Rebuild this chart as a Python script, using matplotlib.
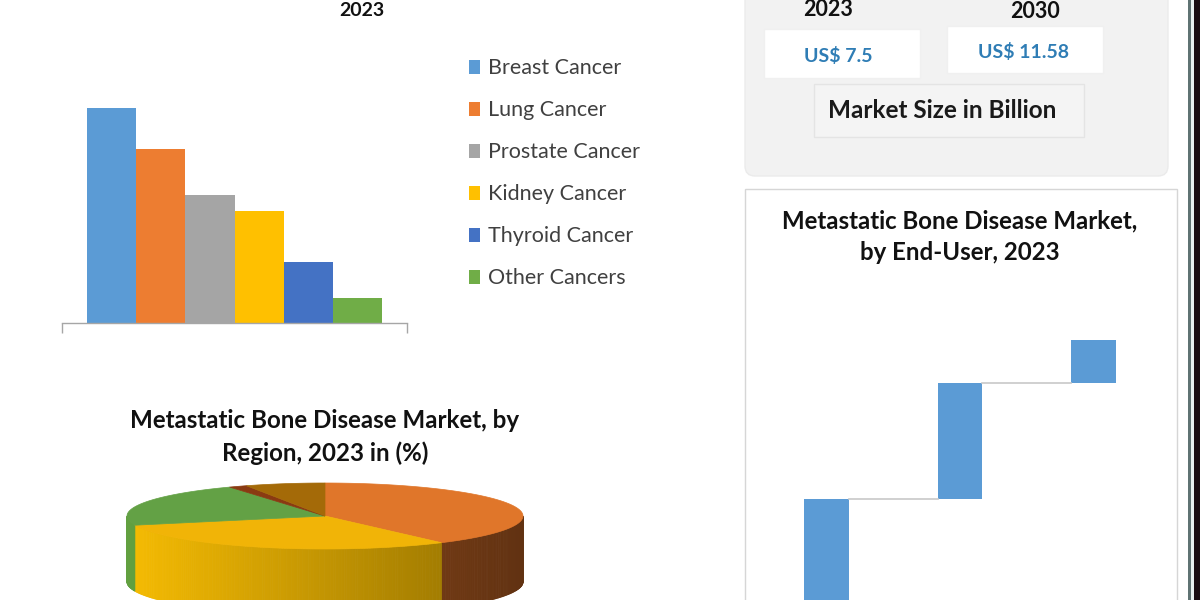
import numpy as np
import matplotlib
matplotlib.use("Agg")
import matplotlib.pyplot as plt
from matplotlib.patches import FancyBboxPatch, Rectangle, Polygon
import matplotlib.colors as mcolors

# ---------------- data ----------------
cancer_types = ["Breast Cancer", "Lung Cancer", "Prostate Cancer",
                "Kidney Cancer", "Thyroid Cancer", "Other Cancers"]
cancer_share = [35.0, 28.3, 20.8, 18.2, 9.9, 4.0]
cancer_colors = ["#5B9BD5", "#ED7D31", "#A5A5A5", "#FFC000", "#4472C4", "#70AD47"]

region_share = [40.0, 30.5, 21.5, 1.5, 6.5]
region_top_colors = ["#E0762A", "#F1B407", "#63A145", "#8A3A12", "#A46A08"]
region_side_colors = ["#A8561E", "#F6BC02", "#62A040", "#7A3010", "#9A6008"]

market_years = ["2023", "2030"]
market_values = ["US$ 7.5", "US$ 11.58"]

enduser_labels = ["Hospitals", "Specialty Clinics", "Others"]
enduser_values = [45.0, 35.0, 13.0]
enduser_color = "#5B9BD5"

FONT = "Lato"
plt.rcParams['font.family'] = [FONT, 'DejaVu Sans']

fig = plt.figure(figsize=(12, 6), dpi=100)
fig.patch.set_facecolor("white")

# background axes in pixel coordinates
bg = fig.add_axes([0, 0, 1, 1], zorder=0)
bg.set_xlim(0, 1200)
bg.set_ylim(600, 0)
bg.axis("off")

# ---------------- top-left bar chart ----------------
bg.text(362, 11, "2023", ha="center", va="center", fontsize=14,
        fontweight="bold", color="#111111")

axb = fig.add_axes([62 / 1200, (600 - 323) / 600, 345 / 1200, 223 / 600], zorder=2)
axb.patch.set_alpha(0)
xs = np.arange(len(cancer_share))
axb.bar(xs, cancer_share, width=1.0, color=cancer_colors, edgecolor="none")
axb.set_xlim(-1.02, 6.02)
axb.set_ylim(0, 36.3)
for s in ["top", "right", "left"]:
    axb.spines[s].set_visible(False)
axb.spines["bottom"].set_color("#A6A6A6")
axb.spines["bottom"].set_linewidth(1.0)
axb.set_yticks([])
axb.set_xticks([-1.02, 6.02])
axb.set_xticklabels(["", ""])
axb.tick_params(axis="x", length=7, width=1.0, color="#A6A6A6", direction="out")

# legend (manual)
for i, (name, col) in enumerate(zip(cancer_types, cancer_colors)):
    y = 67 + 42 * i
    bg.add_patch(Rectangle((469, y - 7), 11, 14, facecolor=col, edgecolor="none"))
    bg.text(488, y + 1, name, ha="left", va="center", fontsize=15.5, color="#404040")

# ---------------- 3D pie ----------------
bg.text(325, 421, "Metastatic Bone Disease Market, by", ha="center", va="center",
        fontsize=17.4, fontweight="bold", color="#111111")
bg.text(325, 453, "Region, 2023 in (%)", ha="center", va="center",
        fontsize=17.4, fontweight="bold", color="#111111")

CX, CY, RX, RY, H = 325, 516, 198, 33, 66
fr = np.array(region_share) / np.sum(region_share)
ends = 90 - 360 * np.cumsum(fr)
starts = np.concatenate([[90.0], ends[:-1]])


def rim(t):
    r = np.radians(t)
    return CX + RX * np.cos(r), CY - RY * np.sin(r)


# side faces (front half, angles between -180 and 0)
for i in range(len(fr)):
    a2, b2 = max(ends[i], -180), min(starts[i], 0)
    if b2 <= a2:
        continue
    n = max(int((b2 - a2) / 0.8), 1)
    ts = np.linspace(a2, b2, n + 1)
    base = np.array(mcolors.to_rgb(region_side_colors[i]))
    for k in range(n):
        x0, y0 = rim(ts[k])
        x1, y1 = rim(ts[k + 1])
        xm = 0.5 * (x0 + x1)
        f = 1.0 - 0.42 * (xm - (CX - RX)) / (2 * RX)
        col = np.clip(base * f, 0, 1)
        bg.add_patch(Polygon([(x0, y0), (x1, y1), (x1, y1 + H), (x0, y0 + H)],
                             closed=True, facecolor=col, edgecolor=col,
                             linewidth=0.6, zorder=1))

# top faces
for i in range(len(fr)):
    ts = np.linspace(starts[i], ends[i], max(int(abs(starts[i] - ends[i])), 2) + 1)
    pts = [(CX, CY)] + [rim(t) for t in ts]
    bg.add_patch(Polygon(pts, closed=True, facecolor=region_top_colors[i],
                         edgecolor=region_top_colors[i], linewidth=0.5, zorder=2))

# ---------------- top-right market size panel ----------------
bg.add_patch(FancyBboxPatch((745, -30), 423, 206, boxstyle="round,pad=0,rounding_size=10",
                            facecolor="#F2F2F2", edgecolor="#EBEBEB", linewidth=1, zorder=0))
bg.add_patch(Rectangle((764, 29), 156, 49, facecolor="white", edgecolor="#F0F0F0", zorder=1))
bg.add_patch(Rectangle((947, 26), 156, 47, facecolor="white", edgecolor="#F0F0F0", zorder=1))
bg.add_patch(Rectangle((814, 84), 270, 53, facecolor="#F4F4F4", edgecolor="#E4E4E4",
                       linewidth=1, zorder=1))
year_pos = [(828, 10), (1035, 12)]
val_pos = [(838, 56), (1023, 52)]
for yr, (x, y) in zip(market_years, year_pos):
    bg.text(x, y, yr, ha="center", va="center", fontsize=15.5, fontweight="bold",
            color="#111111", zorder=3)
for v, (x, y) in zip(market_values, val_pos):
    bg.text(x, y, v, ha="center", va="center", fontsize=14, fontweight="bold",
            color="#2F7DB5", zorder=3)
bg.text(942, 110, "Market Size in Billion", ha="center", va="center", fontsize=17.5,
        fontweight="bold", color="#1A1A1A", zorder=3)

# ---------------- lower-right end-user panel ----------------
bg.add_patch(Rectangle((745, 189), 432, 440, facecolor="white", edgecolor="#D6D6D6",
                       linewidth=1, zorder=0))
bg.text(960, 221, "Metastatic Bone Disease Market,", ha="center", va="center",
        fontsize=17.3, fontweight="bold", color="#111111", zorder=3)
bg.text(960, 252, "by End-User, 2023", ha="center", va="center",
        fontsize=17.3, fontweight="bold", color="#111111", zorder=3)

s_px = 3.314
axw = fig.add_axes([759.75 / 1200, -48 / 600, 400.5 / 1200, 348 / 600], zorder=2)
axw.patch.set_alpha(0)
cum = np.cumsum(enduser_values)
bottoms = np.concatenate([[0.0], cum[:-1]])
xw = np.arange(len(enduser_values))
bw = 0.337
axw.bar(xw, enduser_values, bottom=bottoms, width=bw, color=enduser_color, edgecolor="none")
for i in range(len(enduser_values) - 1):
    axw.plot([xw[i] + bw / 2, xw[i + 1] - bw / 2], [cum[i], cum[i]],
             color="#C8C8C8", linewidth=1.2)
axw.set_xlim(-0.5, 2.5)
axw.set_ylim(0, 348 / s_px)
axw.axis("off")

# right edge decoration
bg.add_patch(Rectangle((1187.5, 0), 3, 600, facecolor="#5F7373", edgecolor="none"))
bg.add_patch(Rectangle((1190.5, 0), 3.5, 600, facecolor="#E6F0F0", edgecolor="none"))
bg.add_patch(Rectangle((1194, 0), 6, 600, facecolor="#170C12", edgecolor="none"))

fig.savefig("out.png", dpi=100)
